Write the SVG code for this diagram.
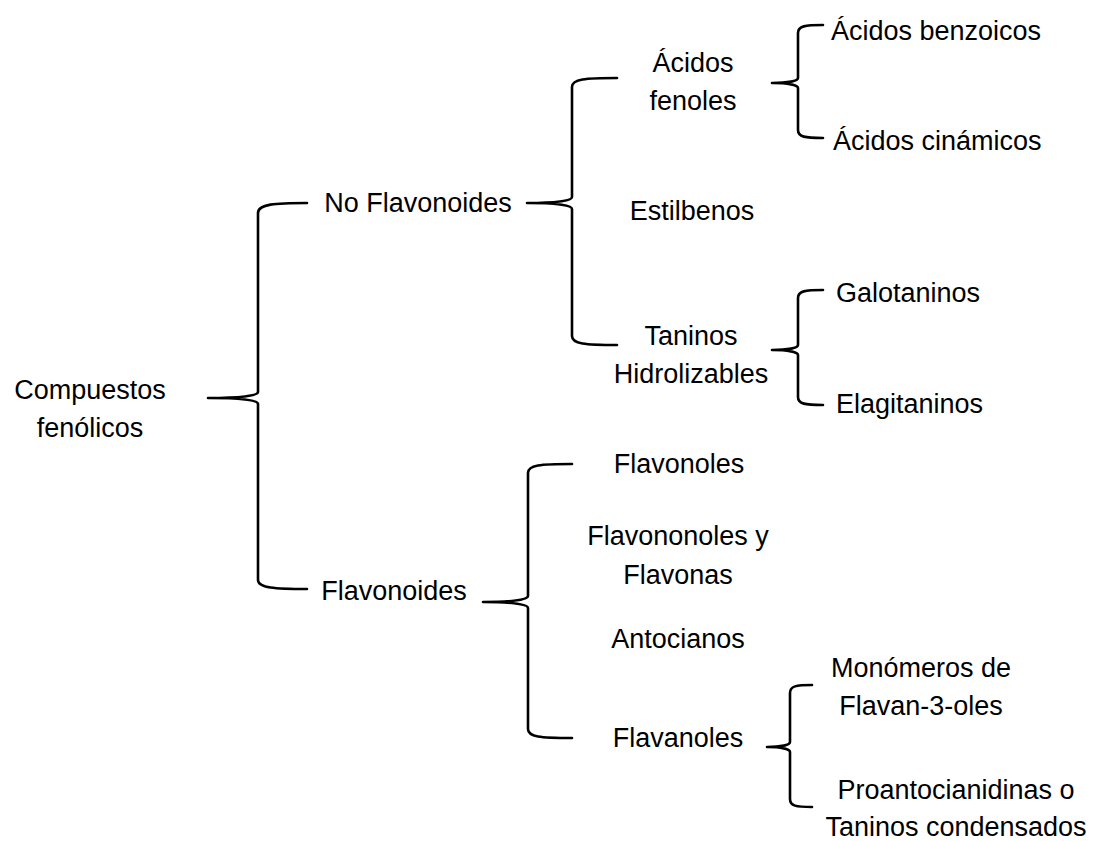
<svg xmlns="http://www.w3.org/2000/svg" width="1095" height="841" viewBox="0 0 1095 841">
  <style>
    text { font-family: "Liberation Sans", Arial, sans-serif; font-size: 27px; fill: #000; }
    .mid { text-anchor: middle; }
    .brace { fill: none; stroke: #000; stroke-width: 2.6; stroke-linecap: round; stroke-linejoin: round; }
  </style>
  <rect width="1095" height="841" fill="#fff"/>

  <!-- curly braces joining each level to the next -->
  <g id="connectors">
    <path class="brace" d="M307,203 C275,203 258,204 258,213 L258,392 C258,396 240,398 208,398 C240,398 258,400 258,404 L258,580 C258,588 275,589 307,589"/>
    <path class="brace" d="M617,78 C585,78 572,79 572,87 L572,197 C572,201 555,203 527,203 C555,203 572,205 572,209 L572,336 C572,344 585,345 617,345"/>
    <path class="brace" d="M823,25 C805,25 798,26 798,33 L798,78 C798,81 788,83 772,83 C788,83 798,85 798,88 L798,130 C798,137 805,138 823,138"/>
    <path class="brace" d="M823,290 C805,290 798,291 798,298 L798,345 C798,348 788,350 772,350 C788,350 798,352 798,355 L798,397 C798,404 805,405 823,405"/>
    <path class="brace" d="M572,464 C540,464 528,465 528,473 L528,596 C528,600 510,602 483,602 C510,602 528,604 528,608 L528,729 C528,737 540,738 572,738"/>
    <path class="brace" d="M812,685 C796,685 790,686 790,693 L790,742 C790,745 781,747 767,747 C781,747 790,749 790,752 L790,799 C790,806 796,807 812,807"/>
  </g>

  <g id="compuestos-fenolicos">
    <text class="mid" x="90" y="399">Compuestos</text>
    <text class="mid" x="90" y="437">fenólicos</text>
  </g>

  <g id="no-flavonoides">
    <text class="mid" x="418" y="212">No Flavonoides</text>
  </g>
  <g id="flavonoides">
    <text class="mid" x="394" y="600">Flavonoides</text>
  </g>

  <g id="acidos-fenoles">
    <text class="mid" x="693" y="72">Ácidos</text>
    <text class="mid" x="693" y="110">fenoles</text>
  </g>
  <g id="acidos-benzoicos">
    <text x="831" y="40">Ácidos benzoicos</text>
  </g>
  <g id="acidos-cinamicos">
    <text x="833" y="150">Ácidos cinámicos</text>
  </g>

  <g id="estilbenos">
    <text class="mid" x="692" y="220">Estilbenos</text>
  </g>

  <g id="taninos-hidrolizables">
    <text class="mid" x="691" y="345">Taninos</text>
    <text class="mid" x="691" y="383">Hidrolizables</text>
  </g>
  <g id="galotaninos">
    <text x="836" y="302">Galotaninos</text>
  </g>
  <g id="elagitaninos">
    <text x="836" y="413">Elagitaninos</text>
  </g>

  <g id="flavonoles">
    <text class="mid" x="679" y="473">Flavonoles</text>
  </g>
  <g id="flavononoles-flavonas">
    <text class="mid" x="678" y="545">Flavononoles y</text>
    <text class="mid" x="678" y="584">Flavonas</text>
  </g>
  <g id="antocianos">
    <text class="mid" x="678" y="648">Antocianos</text>
  </g>
  <g id="flavanoles">
    <text class="mid" x="678" y="747">Flavanoles</text>
  </g>

  <g id="monomeros">
    <text class="mid" x="921" y="677">Monómeros de</text>
    <text class="mid" x="921" y="715">Flavan-3-oles</text>
  </g>
  <g id="proantocianidinas">
    <text class="mid" x="956" y="799">Proantocianidinas o</text>
    <text class="mid" x="956" y="836">Taninos condensados</text>
  </g>
</svg>
